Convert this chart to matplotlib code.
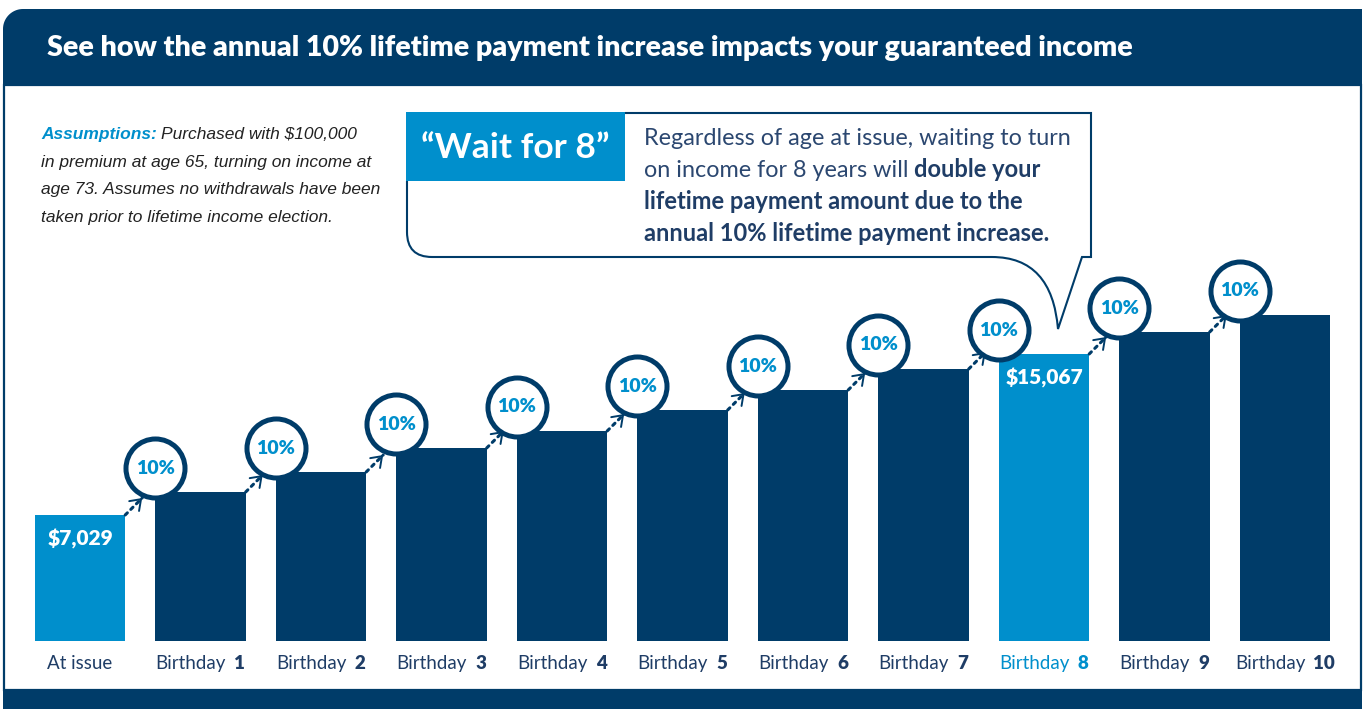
import numpy as np
import matplotlib
matplotlib.use("Agg")
import matplotlib.pyplot as plt
from matplotlib.patches import Rectangle, PathPatch
from matplotlib.path import Path
from matplotlib.transforms import offset_copy
from matplotlib.offsetbox import TextArea, HPacker, AnnotationBbox

NAVY = "#003c69"
BLUE = "#008fcc"
TEXT_NAVY = "#1f3d66"
FONT = ["Lato", "DejaVu Sans"]

# data
categories = ["At issue", "Birthday", "Birthday", "Birthday", "Birthday", "Birthday",
              "Birthday", "Birthday", "Birthday", "Birthday", "Birthday"]
birthday_nums = ["", "1", "2", "3", "4", "5", "6", "7", "8", "9", "10"]
# drawn bar heights (the graphic is not drawn to a dollar scale)
bar_heights = [126, 149, 169, 193, 210, 231, 251, 272, 287, 309, 326]
value_labels = ["$7,029", "", "", "", "", "", "", "", "$15,067", "", ""]
increase_labels = ["", "10%", "10%", "10%", "10%", "10%", "10%", "10%", "10%", "10%", "10%"]
highlight = [0, 8]

title = "See how the annual 10% lifetime payment increase impacts your guaranteed income"

plt.rcParams["font.family"] = FONT
fig = plt.figure(figsize=(13.64, 7.09), dpi=100)
renderer = fig.canvas.get_renderer()

# background layer in pixel coordinates
bg = fig.add_axes([0, 0, 1, 1])
bg.set_xlim(0, 1364)
bg.set_ylim(709, 0)
bg.axis("off")

# body frame
bg.add_patch(Rectangle((4, 85), 1357, 605, facecolor="white", edgecolor=NAVY, lw=1.6))
bg.add_patch(Rectangle((3, 690), 1359, 19, facecolor=NAVY, edgecolor="none"))

# header with rounded top-left corner
th = np.linspace(np.pi, 1.5 * np.pi, 20)
hx = [3] + list(23 + 20 * np.cos(th)) + [1362, 1362]
hy = [85] + list(29 + 20 * np.sin(th)) + [9, 85]
bg.fill(hx, hy, color=NAVY, lw=0)
bg.text(47, 48, title, color="white", fontsize=20.6, fontweight="heavy", va="center")


def run_text(x, y, parts, gap=4):
    for s, kw in parts:
        t = bg.text(x, y, s, va="baseline", **kw)
        bb = t.get_window_extent(renderer)
        x = bg.transData.inverted().transform((bb.x1, bb.y0))[0] + gap


# assumptions note
note_kw = dict(fontsize=12.5, fontstyle="italic", color="#222222",
               family=["Liberation Sans Narrow", "Liberation Sans"])
run_text(41, 139, [("Assumptions:", dict(note_kw, color=BLUE, fontweight="bold")),
                   (r"Purchased with \$100,000", note_kw)])
bg.text(41, 167, "in premium at age 65, turning on income at", va="baseline", **note_kw)
bg.text(41, 194, "age 73. Assumes no withdrawals have been", va="baseline", **note_kw)
bg.text(41, 222, "taken prior to lifetime income election.", va="baseline", **note_kw)

# speech bubble
verts = [(625, 113), (1091, 113), (1091, 257), (1082, 257), (1058, 329),
         (1052, 257), (992, 257), (432, 257), (407, 257), (407, 232), (407, 181)]
codes = [Path.MOVETO, Path.LINETO, Path.LINETO, Path.LINETO, Path.LINETO,
         Path.CURVE3, Path.CURVE3, Path.LINETO, Path.CURVE3, Path.CURVE3, Path.LINETO]
bg.add_patch(PathPatch(Path(verts, codes), fill=False, edgecolor=NAVY, lw=1.5))
bg.add_patch(Rectangle((406, 112), 219, 69, facecolor=BLUE, edgecolor="none"))
bg.text(515, 148, "\u201cWait for 8\u201d", color="white", fontsize=25.5,
        fontweight="bold", ha="center", va="center")

light = dict(fontsize=16.8, fontweight="normal", color="#2b4770")
heavy = dict(fontsize=17, fontweight="bold", color=TEXT_NAVY)
bg.text(644, 145, "Regardless of age at issue, waiting to turn", va="baseline", **light)
run_text(644, 177, [("on income for 8 years will", light), ("double your", heavy)], gap=5)
bg.text(644, 209, "lifetime payment amount due to the", va="baseline", **heavy)
bg.text(644, 241, "annual 10% lifetime payment increase.", va="baseline", **heavy)

# bar chart
ax = fig.add_axes([19.75 / 1364, 68 / 709, 1325.5 / 1364, 555 / 709])
ax.set_xlim(-0.5, 10.5)
ax.set_ylim(0, 555)
ax.axis("off")
ax.patch.set_alpha(0)

x = np.arange(len(bar_heights))
w = 0.75
colors = [BLUE if i in highlight else NAVY for i in x]
ax.bar(x, bar_heights, width=w, color=colors, zorder=2)

for i, lab in enumerate(value_labels):
    if lab:
        ax.annotate(lab.replace("$", r"\$"), (i, bar_heights[i]), xytext=(0, -24),
                    textcoords="offset pixels", ha="center", va="center",
                    color="white", fontsize=15, fontweight="heavy", zorder=3)

up = offset_copy(ax.transData, fig=fig, x=0, y=24, units="dots")
tip = offset_copy(ax.transData, fig=fig, x=17, y=17, units="dots")
for i in range(1, len(bar_heights)):
    x0, y0 = i - 1 + w / 2, bar_heights[i - 1]
    ax.annotate("", xy=(x0, y0), xycoords=tip, xytext=(x0, y0), textcoords="data",
                arrowprops=dict(arrowstyle="-", linestyle=(0, (1, 1.6)), lw=2.2,
                                color=NAVY, shrinkA=0, shrinkB=0), zorder=3)
    ax.annotate("", xy=(x0, y0), xycoords=tip, xytext=(-2, -2), textcoords="offset pixels",
                arrowprops=dict(arrowstyle="->,head_length=0.7,head_width=0.5", lw=1.4,
                                color=NAVY, shrinkA=0, shrinkB=0), zorder=3)
    cx, cy = i - w / 2, bar_heights[i]
    ax.plot([cx], [cy], "o", ms=42.5, mfc="white", mec=NAVY, mew=3.6,
            transform=up, zorder=5, clip_on=False)
    ax.text(cx, cy, increase_labels[i], transform=up, ha="center", va="center",
            color=BLUE, fontsize=14, fontweight="heavy", zorder=6)

# category labels
for i, (cat, num) in enumerate(zip(categories, birthday_nums)):
    col = BLUE if i == 8 else TEXT_NAVY
    parts = [TextArea(cat, textprops=dict(fontsize=13.5, fontweight="normal", color=col))]
    if num:
        parts.append(TextArea(num, textprops=dict(fontsize=13.5, fontweight="heavy", color=col)))
    box = HPacker(children=parts, sep=6, pad=0, align="baseline")
    ab = AnnotationBbox(box, (i, 0), xybox=(0, -16), xycoords="data",
                        boxcoords="offset points", box_alignment=(0.5, 0.5),
                        frameon=False, pad=0)
    ax.add_artist(ab)

fig.savefig("out.png", dpi=100)
